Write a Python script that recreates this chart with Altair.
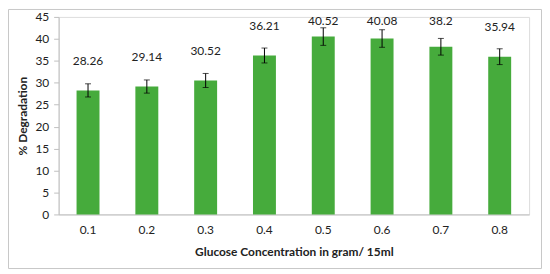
import altair as alt
import pandas as pd

concentrations = ["0.1", "0.2", "0.3", "0.4", "0.5", "0.6", "0.7", "0.8"]
degradation = [28.26, 29.14, 30.52, 36.21, 40.52, 40.08, 38.2, 35.94]
errors = [1.5, 1.5, 1.6, 1.7, 2.0, 2.0, 1.9, 1.8]
y_ticks = [0, 5, 10, 15, 20, 25, 30, 35, 40, 45]

df = pd.DataFrame({"conc": concentrations, "deg": degradation, "err": errors})
df["lo"] = df["deg"] - df["err"]
df["hi"] = df["deg"] + df["err"]
df["label"] = [str(v) for v in degradation]

W, H = 474, 199
FONT = "Lato"
GREEN = "#46ab3c"
yscale = alt.Scale(domain=[0, 45], nice=False, zero=True)
xscale = alt.Scale(paddingInner=0.61, paddingOuter=0.305)

xaxis = alt.Axis(title="Glucose Concentration in gram/ 15ml", labelAngle=0,
                 ticks=False, labelPadding=10, titlePadding=11,
                 domainColor="#bfbfbf", labelFontSize=12, titleFontSize=12,
                 titleFontWeight="bold", labelColor="#222", titleColor="#222")
yaxis = alt.Axis(title="% Degradation", values=y_ticks, labelOverlap=False,
                 grid=False, tickSize=5, tickColor="#bfbfbf", domainColor="#bfbfbf",
                 labelFontSize=12, titleFontSize=12, titleFontWeight="bold",
                 labelPadding=5, titlePadding=5,
                 labelColor="#222", titleColor="#222")


def X():
    return alt.X("conc:N", sort=concentrations, scale=xscale, axis=xaxis)


def Y(field):
    return alt.Y(field, scale=yscale, axis=yaxis, title="% Degradation")


base = alt.Chart(df)
bars = base.mark_bar(color=GREEN).encode(x=X(), y=Y("deg:Q"))
rules = base.mark_rule(color="black", strokeWidth=1).encode(
    x=X(), y=Y("lo:Q"), y2="hi:Q")
caps_lo = base.mark_tick(color="black", size=6, thickness=1).encode(
    x=X(), y=Y("lo:Q"))
caps_hi = base.mark_tick(color="black", size=6, thickness=1).encode(
    x=X(), y=Y("hi:Q"))
labels = base.transform_calculate(
    ly="min(datum.deg + 6.8, 44)"
).mark_text(fontSize=12, font=FONT, color="#222", baseline="middle").encode(
    x=X(), y=Y("ly:Q"), text="label:N")

border = alt.Chart(pd.DataFrame({"a": [0]})).mark_rect(
    fill=None, stroke="#c8c8c8", strokeWidth=1, clip=False
).encode(x=alt.value(-50.5), x2=alt.value(W + 12.5),
         y=alt.value(-7.5), y2=alt.value(H + 54.5))

chart = alt.layer(bars, rules, caps_lo, caps_hi, labels, border).properties(
    width=W, height=H,
    autosize=alt.AutoSizeParams(type="none"),
    padding={"left": 51, "top": 8, "right": 13, "bottom": 55},
).configure_view(stroke=None).configure(font=FONT)

chart.save("out.html", embed_options={"renderer": "svg", "actions": False})
